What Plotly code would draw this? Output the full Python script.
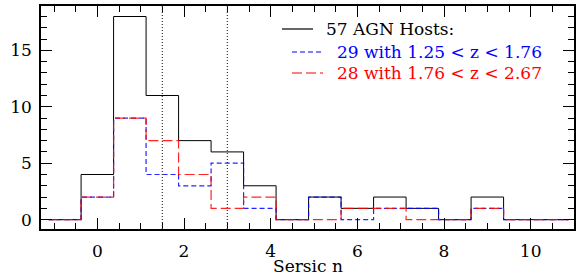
import plotly.graph_objects as go

# ---- data ----
bin_centers = [-0.75, 0.0, 0.75, 1.5, 2.25, 3.0, 3.75, 4.5, 5.25, 6.0, 6.75, 7.5, 8.25, 9.0, 9.75, 10.5]
bin_width = 0.75
all_hosts = [0, 4, 18, 11, 7, 6, 3, 0, 2, 1, 2, 1, 0, 2, 0, 0]
low_z = [0, 2, 9, 4, 3, 5, 1, 0, 2, 0, 1, 1, 0, 1, 0, 0]
high_z = [0, 2, 9, 7, 4, 1, 2, 0, 0, 1, 1, 0, 0, 1, 0, 0]
divider_n = [1.5, 3.0]
legend_labels = ["57 AGN Hosts:", "29 with 1.25 < z < 1.76", "28 with 1.76 < z < 2.67"]

edges = [c - bin_width / 2 for c in bin_centers] + [bin_centers[-1] + bin_width / 2]

def step(counts):
    return edges, list(counts) + [counts[-1]]

FONT = "DejaVu Serif"
W, H = 576, 277
ml, mr, mt, mb = 41, 2, 6, 48
pw, ph = W - ml - mr, H - mt - mb

def px(x):
    return (x - ml) / pw

def py(y):
    return (H - mb - y) / ph

fig = go.Figure()
x, y = step(all_hosts)
fig.add_trace(go.Scatter(x=x, y=y, mode="lines", line=dict(color="black", width=1, shape="hv"), showlegend=False))
x, y = step(low_z)
fig.add_trace(go.Scatter(x=x, y=y, mode="lines", opacity=0.85,
                         line=dict(color="rgb(0,0,255)", width=1.2, shape="hv", dash="5px,3px"), showlegend=False))
x, y = step(high_z)
fig.add_trace(go.Scatter(x=x, y=y, mode="lines", opacity=0.85,
                         line=dict(color="rgb(255,0,0)", width=1.2, shape="hv", dash="10px,4px"), showlegend=False))

for d in divider_n:
    fig.add_shape(type="line", xref="x", yref="paper", x0=d, x1=d, y0=0, y1=1,
                  line=dict(color="#333333", width=1.2, dash="1px,2px"))

# legend drawn manually
leg = [
    (282, 313, 324, 29, "black", "solid", legend_labels[0]),
    (292, 323, 335, 52, "rgb(0,0,255)", "5px,3px", legend_labels[1]),
    (292, 323, 335, 73, "rgb(255,0,0)", "10px,4px", legend_labels[2]),
]
for x0, x1, tx, yy, col, dash, lab in leg:
    fig.add_shape(type="line", xref="paper", yref="paper", x0=px(x0), x1=px(x1), y0=py(yy), y1=py(yy),
                  line=dict(color=col, width=1.2, dash=dash))
    fig.add_annotation(xref="paper", yref="paper", x=px(tx), y=py(yy), text=lab, showarrow=False,
                       xanchor="left", yanchor="middle", font=dict(family=FONT, size=17, color=col))

fig.add_annotation(xref="paper", yref="paper", x=0.5, y=py(266), text="Sersic n", showarrow=False,
                   xanchor="center", yanchor="middle", font=dict(family=FONT, size=17, color="black"))

axis_common = dict(showgrid=False, zeroline=False, showline=True, linecolor="black", linewidth=1.5,
                   mirror="allticks", ticks="inside", ticklen=11, tickwidth=1, tickcolor="black",
                   automargin=False,
                   tickfont=dict(family=FONT, size=17, color="black"))
fig.update_xaxes(range=[-1.3, 11.0], tickvals=[0, 2, 4, 6, 8, 10], ticklabelstandoff=6,
                 minor=dict(ticks="inside", dtick=0.5, tick0=0, ticklen=6, tickcolor="black"),
                 **axis_common)
fig.update_yaxes(range=[-0.83, 18.93], tickvals=[0, 5, 10, 15], ticklabelstandoff=4,
                 minor=dict(ticks="inside", dtick=1, tick0=0, ticklen=6, tickcolor="black"),
                 **axis_common)
fig.update_layout(width=W, height=H, margin=dict(l=ml, r=mr, t=mt, b=mb),
                  plot_bgcolor="white", paper_bgcolor="white")
fig.write_html("out.html", config={"displayModeBar": False},
               post_script="document.body.style.margin='0';document.body.style.padding='0';")
